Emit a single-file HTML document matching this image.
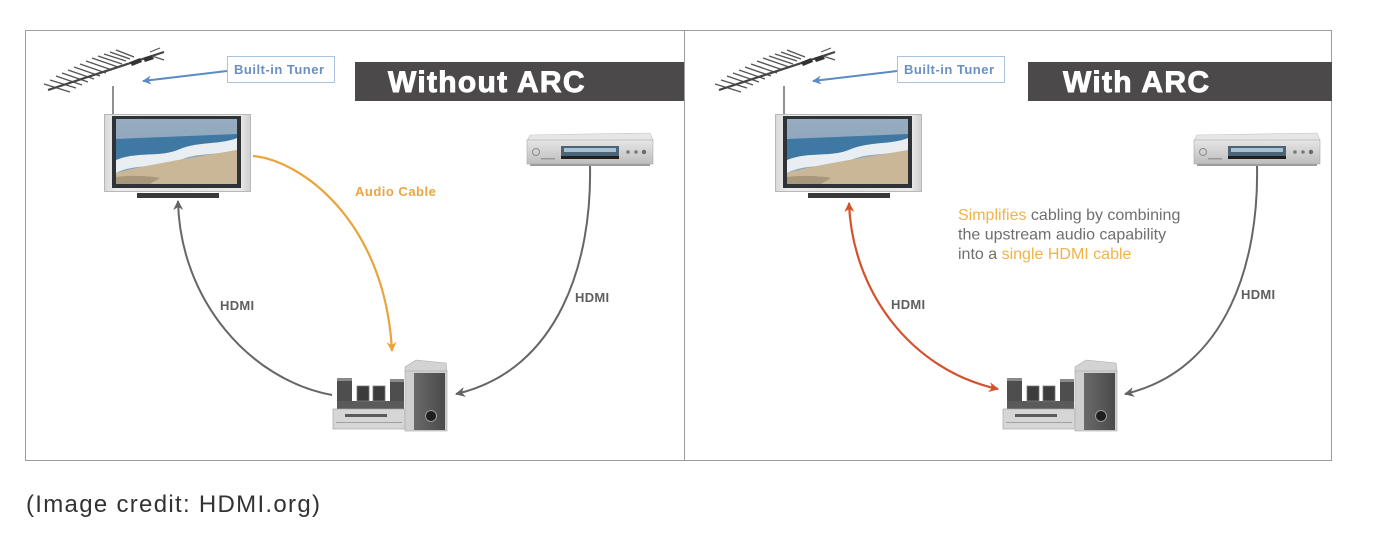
<!DOCTYPE html>
<html><head><meta charset="utf-8"><style>
html,body{margin:0;padding:0;background:#fff;}
svg{display:block;}
text{font-family:"Liberation Sans",Arial,sans-serif;}
</style></head><body>
<svg width="1380" height="542" viewBox="0 0 1380 542" xmlns="http://www.w3.org/2000/svg">
<defs>
  <marker id="ag" viewBox="0 0 10 10" refX="9" refY="5" markerWidth="11" markerHeight="10" markerUnits="userSpaceOnUse" orient="auto-start-reverse">
    <path d="M0,0 L10,5 L0,10 L3,5 Z" fill="#636363"/>
  </marker>
  <marker id="ao" viewBox="0 0 10 10" refX="9" refY="5" markerWidth="11" markerHeight="10" markerUnits="userSpaceOnUse" orient="auto-start-reverse">
    <path d="M0,0 L10,5 L0,10 L3,5 Z" fill="#eaa43c"/>
  </marker>
  <marker id="ar" viewBox="0 0 10 10" refX="9" refY="5" markerWidth="11" markerHeight="10" markerUnits="userSpaceOnUse" orient="auto-start-reverse">
    <path d="M0,0 L10,5 L0,10 L3,5 Z" fill="#d4512b"/>
  </marker>
  <marker id="ab" viewBox="0 0 10 10" refX="9" refY="5" markerWidth="10" markerHeight="9" markerUnits="userSpaceOnUse" orient="auto-start-reverse">
    <path d="M0,0 L10,5 L0,10 L3,5 Z" fill="#5a8bc4"/>
  </marker>
  <linearGradient id="silver" x1="0" y1="0" x2="1" y2="0">
    <stop offset="0" stop-color="#d9d9d9"/>
    <stop offset="0.08" stop-color="#ececec"/>
    <stop offset="0.5" stop-color="#e2e2e2"/>
    <stop offset="0.92" stop-color="#ececec"/>
    <stop offset="1" stop-color="#cfcfcf"/>
  </linearGradient>
  <linearGradient id="dvdg" x1="0" y1="0" x2="0" y2="1">
    <stop offset="0" stop-color="#e6e6e6"/>
    <stop offset="1" stop-color="#bdbdbd"/>
  </linearGradient>
  <linearGradient id="subg" x1="0" y1="0" x2="1" y2="0">
    <stop offset="0" stop-color="#6a6a6a"/>
    <stop offset="1" stop-color="#4a4a4a"/>
  </linearGradient>
  <linearGradient id="sky" x1="0" y1="0" x2="0" y2="1">
    <stop offset="0" stop-color="#97acc0"/>
    <stop offset="1" stop-color="#829fb8"/>
  </linearGradient>

  <g id="antenna">
    <g stroke="#555" stroke-width="1.4">
      <line x1="44" y1="84" x2="70" y2="92"/>
      <line x1="50" y1="80" x2="76" y2="88"/>
      <line x1="56" y1="76" x2="82" y2="85"/>
      <line x1="62" y1="73" x2="88" y2="82"/>
      <line x1="68" y1="70" x2="94" y2="79"/>
      <line x1="74" y1="67" x2="100" y2="76"/>
      <line x1="80" y1="64" x2="106" y2="73"/>
      <line x1="86" y1="61" x2="112" y2="70"/>
      <line x1="92" y1="58" x2="118" y2="67"/>
      <line x1="98" y1="56" x2="122" y2="64"/>
      <line x1="104" y1="54" x2="126" y2="61"/>
      <line x1="110" y1="52" x2="130" y2="59"/>
      <line x1="116" y1="50" x2="134" y2="57"/>
    </g>
    <line x1="48" y1="90" x2="164" y2="52" stroke="#444" stroke-width="2.2"/>
    <path d="M130,62 L140,58 L142,62 L132,66 Z" fill="#333"/>
    <path d="M143,58 L152,55 L154,59 L145,62 Z" fill="#333"/>
    <path d="M150,52 L160,48 M152,56 L164,60" stroke="#555" stroke-width="1.2"/>
    <line x1="113" y1="86" x2="113" y2="115" stroke="#6a6a6a" stroke-width="1.5"/>
  </g>

  <g id="tuner">
    <rect x="227.5" y="56.5" width="107" height="26" fill="#fff" stroke="#a9c2de" stroke-width="1"/>
    <line x1="227" y1="71" x2="143" y2="81" stroke="#5a8bc4" stroke-width="2" marker-end="url(#ab)"/>
  </g>

  <g id="tv">
    <rect x="104.5" y="114.5" width="146" height="77" fill="url(#silver)" stroke="#b8b8b8"/>
    <rect x="112" y="116" width="129" height="72" fill="#2f3337"/>
    <rect x="116" y="119" width="121" height="65" fill="url(#sky)"/>
    <path d="M116,139 L237,134 L237,148 L116,160 Z" fill="#3f79a3"/>
    <path d="M116,160 C138,151 160,158 180,149 C200,141 220,145 237,138 L237,150 C215,156 196,152 178,161 C156,169 136,163 116,173 Z" fill="#e8eef2"/>
    <path d="M116,173 C140,166 190,158 237,150 L237,184 L116,184 Z" fill="#c9b798"/>
    <path d="M116,177 C130,175 150,176 160,178 L150,184 L116,184 Z" fill="#a8977a"/>
    <rect x="112" y="184" width="129" height="3" fill="#2f3337"/>
    <rect x="137" y="193" width="82" height="5" fill="#3a3a3a"/>
  </g>

  <g id="dvd">
    <path d="M530,135 L650,133 L653,140 L527,141 Z" fill="#e6e6e6" stroke="#c4c4c4" stroke-width="0.6"/>
    <rect x="527" y="140" width="126" height="24" fill="url(#dvdg)" stroke="#aaa" stroke-width="0.6"/>
    <rect x="561" y="146" width="58" height="12" fill="#4d6376"/>
    <rect x="564" y="148" width="52" height="4" fill="#a7c2d5"/>
    <rect x="561" y="156" width="58" height="3" fill="#1f1f1f"/>
    <circle cx="536" cy="152" r="3.5" fill="none" stroke="#8a8a8a" stroke-width="1"/>
    <rect x="541" y="158" width="14" height="1.5" fill="#999"/>
    <circle cx="628" cy="152" r="1.8" fill="#7a7a7a"/>
    <circle cx="636" cy="152" r="1.8" fill="#7a7a7a"/>
    <circle cx="644" cy="152" r="2.2" fill="#6a6a6a"/>
    <rect x="530" y="164" width="120" height="2" fill="#9c9c9c"/>
  </g>

  <g id="spk">
    <rect x="337" y="378" width="15" height="30" fill="#4e4e4e"/>
    <rect x="337" y="378" width="15" height="3" fill="#8a8a8a"/>
    <rect x="390" y="379" width="14" height="29" fill="#4e4e4e"/>
    <rect x="390" y="379" width="14" height="3" fill="#8a8a8a"/>
    <rect x="337" y="401" width="67" height="9" fill="#5a5a5a"/>
    <rect x="357" y="386" width="12" height="15" fill="#3c3c3c" stroke="#7a7a7a" stroke-width="0.8"/>
    <rect x="373" y="386" width="12" height="15" fill="#3c3c3c" stroke="#7a7a7a" stroke-width="0.8"/>
    <rect x="333" y="409" width="72" height="20" fill="#d6d6d6" stroke="#a8a8a8" stroke-width="0.7"/>
    <rect x="345" y="414" width="42" height="3" fill="#5a5a5a"/>
    <rect x="336" y="422" width="66" height="1" fill="#a0a0a0"/>
    <path d="M405,367 L416,360 L446,363 L447,372 L405,372 Z" fill="#d3d3d3" stroke="#a9a9a9" stroke-width="0.6"/>
    <rect x="405" y="371" width="42" height="60" fill="#cfcfcf" stroke="#a9a9a9" stroke-width="0.6"/>
    <rect x="414" y="373" width="31" height="57" fill="url(#subg)"/>
    <circle cx="431" cy="416" r="5.5" fill="#1f1f1f" stroke="#9a9a9a" stroke-width="1"/>
  </g>
</defs>

<!-- frame -->
<rect x="25.5" y="30.5" width="1306" height="430" fill="#fff" stroke="#9c9c9c" stroke-width="1"/>
<line x1="684.5" y1="30" x2="684.5" y2="461" stroke="#9c9c9c" stroke-width="1"/>

<!-- title bars -->
<rect x="355" y="62" width="329" height="39" fill="#4b494a"/>
<rect x="1028" y="62" width="304" height="39" fill="#4b494a"/>
<text x="388" y="92" font-size="30" font-weight="bold" fill="#fff" stroke="#fff" stroke-width="0.9" letter-spacing="1.3">Without ARC</text>
<text x="1063" y="92" font-size="30" font-weight="bold" fill="#fff" stroke="#fff" stroke-width="0.9" letter-spacing="1.3">With ARC</text>

<!-- left panel devices -->
<use href="#antenna"/>
<use href="#tuner"/>
<use href="#tv"/>
<use href="#dvd"/>
<use href="#spk"/>

<!-- right panel devices -->
<use href="#antenna" transform="translate(671,0)"/>
<use href="#tuner" transform="translate(670,0)"/>
<use href="#tv" transform="translate(671,0)"/>
<use href="#dvd" transform="translate(667,0)"/>
<use href="#spk" transform="translate(670,0)"/>

<!-- tuner labels -->
<text x="234" y="74" font-size="13" font-weight="bold" fill="#6a8fc0" letter-spacing="0.5">Built-in Tuner</text>
<text x="904" y="74" font-size="13" font-weight="bold" fill="#6a8fc0" letter-spacing="0.5">Built-in Tuner</text>

<!-- left panel connectors -->
<path d="M332,395 C250,380 180,300 178,201" fill="none" stroke="#666" stroke-width="2" marker-end="url(#ag)"/>
<path d="M253,156 C300,160 385,220 392,351" fill="none" stroke="#eaa43c" stroke-width="2.2" marker-end="url(#ao)"/>
<path d="M590,166 C592,260 560,370 456,394" fill="none" stroke="#666" stroke-width="2" marker-end="url(#ag)"/>

<text x="355" y="196" font-size="13" font-weight="bold" fill="#e9a444" letter-spacing="0.5">Audio Cable</text>
<text x="220" y="310" font-size="13" font-weight="bold" fill="#5f5f5f" letter-spacing="0.3">HDMI</text>
<text x="575" y="302" font-size="13" font-weight="bold" fill="#5f5f5f" letter-spacing="0.3">HDMI</text>

<!-- right panel connectors -->
<path d="M849,203 C852,290 910,370 998,389" fill="none" stroke="#d4512b" stroke-width="2.2" marker-start="url(#ar)" marker-end="url(#ar)"/>
<path d="M1257,166 C1259,260 1228,370 1125,394" fill="none" stroke="#666" stroke-width="2" marker-end="url(#ag)"/>

<text x="891" y="309" font-size="13" font-weight="bold" fill="#5f5f5f" letter-spacing="0.3">HDMI</text>
<text x="1241" y="299" font-size="13" font-weight="bold" fill="#5f5f5f" letter-spacing="0.3">HDMI</text>

<text font-size="16" fill="#6f6f6f">
  <tspan x="958" y="220"><tspan fill="#f0b348">Simplifies</tspan> cabling by combining</tspan>
  <tspan x="958" y="239.5">the upstream audio capability</tspan>
  <tspan x="958" y="259">into a <tspan fill="#f0b348">single HDMI cable</tspan></tspan>
</text>

<!-- caption -->
<text x="26" y="512" font-size="24" fill="#333" letter-spacing="1.3">(Image credit: HDMI.org)</text>
</svg>
</body></html>
